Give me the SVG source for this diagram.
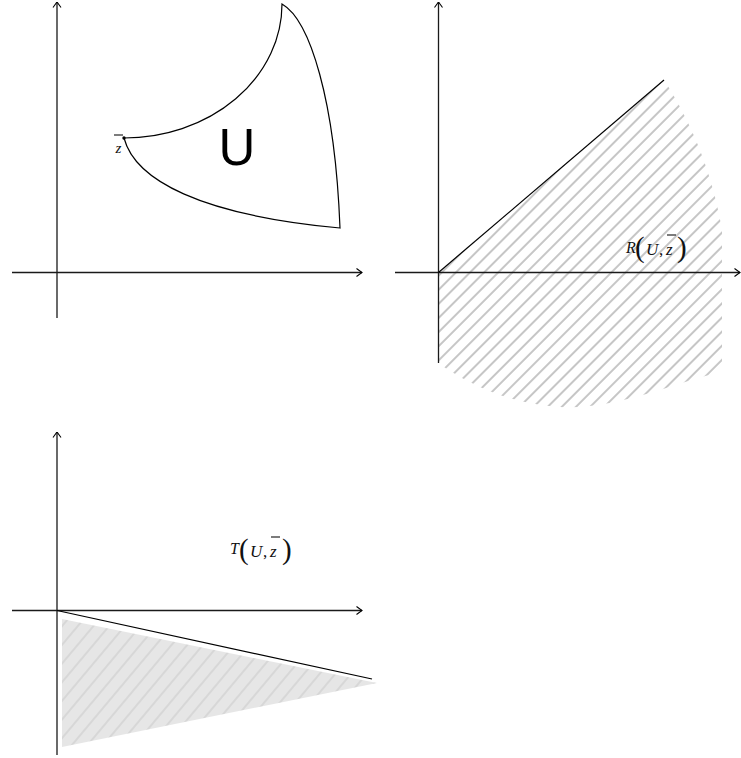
<svg xmlns="http://www.w3.org/2000/svg" width="741" height="758" viewBox="0 0 741 758">
<style>
.ax{stroke:#1a1a1a;stroke-width:1.3;fill:none}
.cv{stroke:#000;stroke-width:1.2;fill:none}
.it{font-family:"Liberation Serif",serif;font-style:italic;fill:#111}
.pr{font-family:"Liberation Serif",serif;fill:#111}
.bar{stroke:#111;stroke-width:1.1}
</style>
<defs>
<marker id="arr" viewBox="0 0 10 10" refX="9.5" refY="5" markerWidth="10" markerHeight="10" markerUnits="userSpaceOnUse" orient="auto">
<path d="M4,1 L9.5,5 L4,9" fill="none" stroke="#000" stroke-width="1.1"/>
</marker>
<pattern id="hatchR" width="10" height="10" patternUnits="userSpaceOnUse" patternTransform="rotate(-45)">
<line x1="0" y1="5" x2="10" y2="5" stroke="#b3b3b3" stroke-width="1.5"/>
</pattern>
<pattern id="hatchT" width="12" height="12" patternUnits="userSpaceOnUse" patternTransform="rotate(-50)">
<rect width="12" height="12" fill="#e6e6e6"/>
<line x1="0" y1="6" x2="12" y2="6" stroke="#d0d0d0" stroke-width="1.3"/>
</pattern>
</defs>

<g id="panel1-axes">
<line class="ax" x1="12" y1="272.5" x2="362" y2="272.5" marker-end="url(#arr)"/>
<line class="ax" x1="57" y1="318" x2="57" y2="2" marker-end="url(#arr)"/>
</g>
<g id="region-U">
<path class="cv" d="M124,138 A158,134 0 0 0 282,4 C310,20 335,100 340,228 C200,215 135,180 124,138 Z"/>
<circle cx="124" cy="138" r="1.7" fill="#000"/>
<text class="it" x="118.5" y="153" font-size="15" text-anchor="middle">z</text>
<line class="bar" x1="114" y1="135" x2="123" y2="135"/>
<text x="237" y="165" font-family="Liberation Sans, Arial, sans-serif" font-size="51" text-anchor="middle" fill="#000">U</text>
</g>

<g id="panel2-region">
<path d="M438,272 L664,80 C690,120 712,170 722,230 L722,372 C680,380 620,410 560,407 C510,404 470,385 438,363 Z" fill="url(#hatchR)"/>
</g>
<g id="panel2-axes">
<line class="ax" x1="395" y1="272.5" x2="740" y2="272.5" marker-end="url(#arr)"/>
<line class="ax" x1="438.5" y1="363" x2="438.5" y2="2" marker-end="url(#arr)"/>
</g>
<g id="panel2-boundary">
<line class="cv" x1="438.5" y1="272.5" x2="664" y2="80"/>
</g>
<g id="label-R">
<text class="it" x="626" y="253" font-size="16">R</text>
<text class="pr" x="635" y="257" font-size="29">(</text>
<text class="it" x="646" y="255" font-size="17">U</text>
<text class="pr" x="659" y="255" font-size="17">,</text>
<text class="it" x="666" y="255" font-size="17">z</text>
<line class="bar" x1="667" y1="235" x2="676" y2="235"/>
<text class="pr" x="677" y="257" font-size="29">)</text>
</g>

<g id="panel3-region">
<path d="M62,619 L377,683 L62,747 Z" fill="url(#hatchT)"/>
</g>
<g id="panel3-axes">
<line class="ax" x1="12" y1="610.5" x2="362" y2="610.5" marker-end="url(#arr)"/>
<line class="ax" x1="57" y1="755" x2="57" y2="432" marker-end="url(#arr)"/>
</g>
<g id="panel3-boundary">
<line class="cv" x1="57" y1="610.5" x2="372" y2="679"/>
</g>
<g id="label-T">
<text class="it" x="230" y="554" font-size="16">T</text>
<text class="pr" x="239" y="559" font-size="29">(</text>
<text class="it" x="250" y="557" font-size="17">U</text>
<text class="pr" x="263" y="557" font-size="17">,</text>
<text class="it" x="270" y="557" font-size="17">z</text>
<line class="bar" x1="271" y1="537" x2="280" y2="537"/>
<text class="pr" x="282" y="559" font-size="29">)</text>
</g>
</svg>
